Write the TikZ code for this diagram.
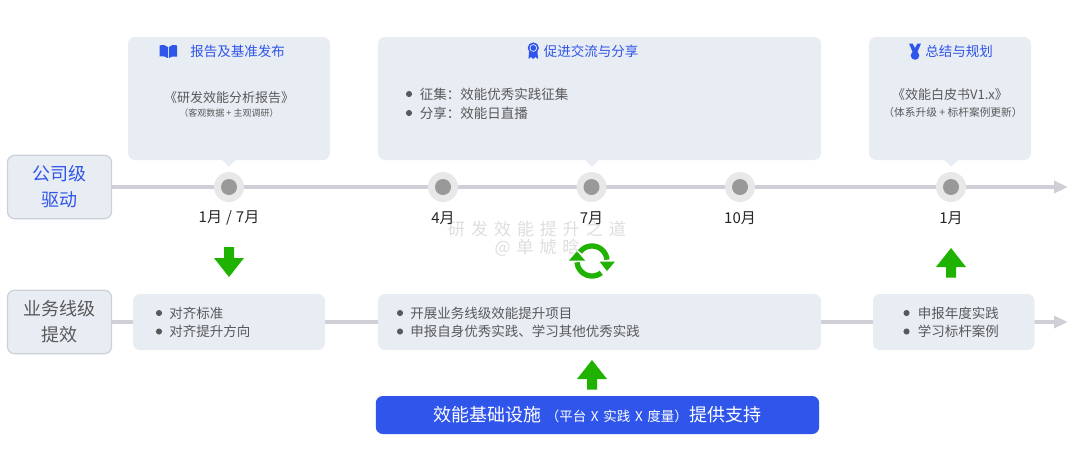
\documentclass[tikz,border=0pt]{standalone}
\usepackage{fontspec}
\setmainfont{Noto Sans CJK SC}
\newfontfamily\wmfont[LetterSpace=35]{Noto Sans CJK SC}
\newcommand{\fsz}[1]{\pgfmathsetmacro\fszv{#1*0.75}\fontsize{\fszv}{\fszv}\selectfont}
\definecolor{panel}{HTML}{E8ECF3}
\definecolor{panelline}{HTML}{CDD0D8}
\definecolor{railc}{HTML}{CFCFD8}
\definecolor{haloc}{HTML}{E8E8E8}
\definecolor{dotc}{HTML}{999999}
\definecolor{bluec}{HTML}{2F55EA}
\definecolor{greenc}{HTML}{1FB200}
\definecolor{bodyc}{HTML}{595959}
\definecolor{datec}{HTML}{262626}
\definecolor{wmc}{HTML}{DEDEDE}
\begin{document}
\begin{tikzpicture}[x=0.75pt,y=-0.75pt,
  panelbox/.style={fill=panel,rounded corners=5.2pt},
  levelbox/.style={fill=panel,draw=panelline,line width=0.9pt,rounded corners=5.2pt},
  rail/.style={draw=railc,line width=2.4pt},
  railtip/.style={fill=railc},
  halo/.style={circle,fill=haloc,minimum size=22.5pt,inner sep=0pt},
  dotn/.style={circle,fill=dotc,minimum size=12pt,inner sep=0pt},
  datelabel/.style={text=datec,font=\fsz{15},inner sep=0pt},
  titlelabel/.style={text=bluec,font=\fsz{13.5},inner sep=0pt},
  bodylabel/.style={text=bodyc,font=\fsz{13},inner sep=0pt},
  smalllabel/.style={text=bodyc,font=\fsz{9},inner sep=0pt},
  listlabel/.style={text=bodyc,font=\fsz{13.5},inner sep=0pt,anchor=west},
  bulletn/.style={circle,fill=bodyc,minimum size=4.6pt,inner sep=0pt},
  greenarrow/.style={fill=greenc},
  wm/.style={text=wmc,font=\wmfont\fsz{17},inner sep=0pt}]
\useasboundingbox (0,0) rectangle (1080,458);
\fill[white] (0,0) rectangle (1080,458);

% rails
\coordinate (railAend) at (1056,187);
\coordinate (railBend) at (1056,322);
\coordinate (railAstart) at (112,187);
\coordinate (railBstart) at (112,322);
\draw[rail] (railAstart) -- (railAend);
\draw[rail] (railBstart) -- (railBend);
\fill[railtip] (1054,180.5) -- (1067.5,187) -- (1054,193.5) -- cycle;
\fill[railtip] (1054,315.5) -- (1067.5,322) -- (1054,328.5) -- cycle;

% upper panels
\fill[panelbox] (128,37) rectangle (330,160);
\fill[panel] (222,160) -- (229,166.5) -- (236,160) -- cycle;
\fill[panelbox] (378,37) rectangle (821,160);
\fill[panel] (585,160) -- (592,166.5) -- (599,160) -- cycle;
\fill[panelbox] (869,37) rectangle (1031,160);
\fill[panel] (944,160) -- (951,166.5) -- (958,160) -- cycle;

% level boxes
\node[levelbox,minimum width=78pt,minimum height=47.5pt,inner sep=0pt] (lvA) at (59.5,187) {};
\node[inner sep=0pt,text=bluec,font=\fsz{18}] (lvAa) at (59.5,174) {公司级};
\node[inner sep=0pt,text=bluec,font=\fsz{18}] (lvAb) at (59.5,200) {驱动};
\node[levelbox,minimum width=78pt,minimum height=47.5pt,inner sep=0pt] (lvB) at (59.5,322) {};
\node[inner sep=0pt,text=bodyc,font=\fsz{18}] (lvBa) at (59.5,309) {业务线级};
\node[inner sep=0pt,text=bodyc,font=\fsz{18}] (lvBb) at (59.5,335) {提效};

% timeline points
\foreach \n/\x in {a/229,b/443,c/591.5,d/740,e/951}{
  \node[halo] (h\n) at (\x,187) {};
  \node[dotn] (p\n) at (\x,187) {};
}

% lower panels
\fill[panelbox] (133,294) rectangle (325,350);
\fill[panelbox] (378,294) rectangle (821,350);
\fill[panelbox] (873,294) rectangle (1034.5,350);

% titles
\node[titlelabel] (tt1) at (237.5,51) {报告及基准发布};
\node[titlelabel] (tt2) at (591,51) {促进交流与分享};
\node[titlelabel] (tt3) at (959,51) {总结与规划};

% title icons
\fill[bluec] (159.5,45.5) .. controls (163,44.5) and (166,45) .. (167.8,47) -- (167.8,58) .. controls (166,56.5) and (163,56) .. (159.5,56.5) -- cycle;
\fill[bluec] (177,45.5) .. controls (173.5,44.5) and (171,45) .. (168.8,47) -- (168.8,58) .. controls (171,56.5) and (173.5,56) .. (177,56.5) -- cycle;
\fill[bluec] (529,52) -- (528.5,59) -- (531,57) -- (533,59) -- (535.5,57) -- (538,59) -- (537.5,52) -- cycle;
\fill[bluec] (533.3,48) circle (5.6);
\fill[panel] (533.3,48) circle (3.8);
\fill[bluec] (533.3,48) circle (2.9);
\fill[bluec] (909,43.5) -- (912.5,43.5) -- (915,48) -- (917.5,43.5) -- (921,43.5) -- (917,53) -- (913,53) -- cycle;
\fill[bluec] (915,55.5) circle (4.3);

% panel bodies
\node[bodylabel] (r1) at (229,98) {《研发效能分析报告》};
\node[smalllabel] (r2) at (229,113) {（客观数据 + 主观调研）};
\node[bodylabel] (w1) at (950,95) {《效能白皮书V1.x》};
\node[text=bodyc,font=\fsz{10.7},inner sep=0pt] (w2) at (953,112) {（体系升级 + 标杆案例更新）};

\node[bulletn] (b1) at (409,94) {};
\node[listlabel] (l1) at (419.5,94) {征集：效能优秀实践征集};
\node[bulletn] (b2) at (409,113) {};
\node[listlabel] (l2) at (419.5,113) {分享：效能日直播};

\node[bulletn] (b3) at (159,313) {};
\node[listlabel] (l3) at (169,313) {对齐标准};
\node[bulletn] (b4) at (159,331.5) {};
\node[listlabel] (l4) at (169,331.5) {对齐提升方向};

\node[bulletn] (b5) at (400,313) {};
\node[listlabel] (l5) at (410,313) {开展业务线级效能提升项目};
\node[bulletn] (b6) at (400,331.5) {};
\node[listlabel] (l6) at (410,331.5) {申报自身优秀实践、学习其他优秀实践};

\node[bulletn] (b7) at (906.5,313) {};
\node[listlabel] (l7) at (917.5,313) {申报年度实践};
\node[bulletn] (b8) at (906.5,331.5) {};
\node[listlabel] (l8) at (917.5,331.5) {学习标杆案例};

% green arrows
\fill[greenarrow] (224,247) -- (234,247) -- (234,258) -- (244,258) -- (229,277) -- (214,258) -- (224,258) -- cycle;
\fill[greenarrow] (946,277.5) -- (956,277.5) -- (956,267) -- (966,267) -- (951,248) -- (936,267) -- (946,267) -- cycle;
\fill[greenarrow] (587,389.5) -- (597,389.5) -- (597,379) -- (607,379) -- (592,360) -- (577,379) -- (587,379) -- cycle;

% watermark
\node[wm] (wm1) at (537,229) {研发效能提升之道};
\node[wm] (wm2) at (537,247.5) {@单虓晗};

% date labels
\node[datelabel] (ta) at (229,218) {1月\hspace{3pt}/\hspace{3pt}7月};
\node[datelabel] (tb) at (443,218) {4月};
\node[datelabel] (tc) at (591.5,218) {7月};
\node[datelabel] (td) at (740,218) {10月};
\node[datelabel] (te) at (951,218) {1月};

% cycle icon
\draw[greenc,line width=4pt] plot[smooth,domain=143:5,samples=30] ({592+15*cos(\x)},{261-15*sin(\x)});
\draw[greenc,line width=4pt] plot[smooth,domain=-52:-175,samples=30] ({592+15*cos(\x)},{261-15*sin(\x)});
\fill[greenc] (599.5,261.5) -- (615,261.5) -- (607,271) -- cycle;
\fill[greenc] (569,260.5) -- (585,260.5) -- (577,251.5) -- cycle;

% base bar
\node[fill=bluec,rounded corners=5.2pt,minimum width=332.5pt,minimum height=28.5pt,inner sep=0pt,text=white] (base) at (597.5,415) {\fsz{18}效能基础设施\hspace{3pt}\fsz{13.5}（平台\hspace{3.5pt}X\hspace{3.5pt}实践\hspace{3.5pt}X\hspace{3.5pt}度量）\hspace{1pt}\fsz{18}提供支持};
\end{tikzpicture}
\end{document}
